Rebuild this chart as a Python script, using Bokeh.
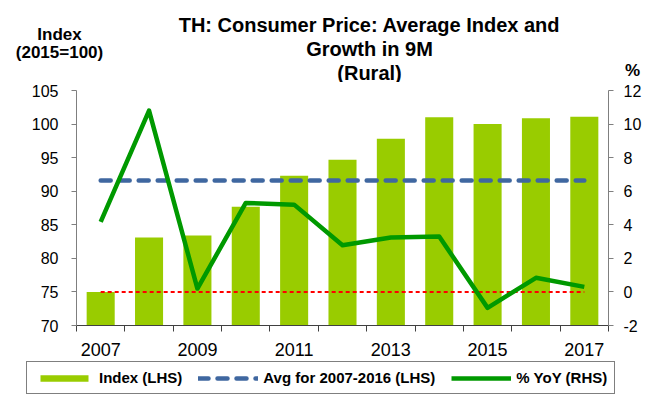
from bokeh.plotting import figure
from bokeh.layouts import column
from bokeh.models import (Range1d, LinearAxis, FixedTicker, Legend, LegendItem,
                          ColumnDataSource)
from bokeh.core.properties import value
from bokeh.embed import file_html
from bokeh.resources import INLINE

# ---- data ----
years = [2007, 2008, 2009, 2010, 2011, 2012, 2013, 2014, 2015, 2016, 2017]
index_vals = [75.0, 83.1, 83.4, 87.7, 92.3, 94.7, 97.8, 101.0, 100.0, 100.85, 101.1]
yoy_vals = [4.17, 10.8, 0.2, 5.3, 5.2, 2.78, 3.24, 3.3, -0.95, 0.84, 0.3]
avg_value = 91.6
zero_value = 0.0
left_ticks = [70, 75, 80, 85, 90, 95, 100, 105]
right_ticks = [-2, 0, 2, 4, 6, 8, 10, 12]
x_label_years = [2007, 2009, 2011, 2013, 2015, 2017]

title_lines = ["TH: Consumer Price: Average Index and", "Growth in 9M", "(Rural)"]
left_unit_lines = ["Index", "(2015=100)"]
right_unit = "%"
legend_labels = ["Index (LHS)", "Avg for 2007-2016 (LHS)", "% YoY (RHS)"]

FONT = "Liberation Sans"
BAR_C = "#99CC00"
LINE_C = "#009900"
AVG_C = "#3F67A0"
ZERO_C = "#FF0000"

W = 644
HEAD_H = 82
MAIN_H = 276
FOOT_H = 37

src = ColumnDataSource(dict(year=years, idx=index_vals, yoy=yoy_vals,
                            avg=[avg_value] * len(years)))

# ---------- header (titles and axis units) ----------
head = figure(width=W, height=HEAD_H, output_backend="svg", toolbar_location=None,
              x_range=Range1d(0, W), y_range=Range1d(HEAD_H, 0),
              x_axis_type=None, y_axis_type=None, min_border=0,
              frame_align=False)
head.outline_line_color = None
head.grid.visible = False
head.text(x=[369] * 3, y=[24, 48, 72], text=title_lines, text_align="center",
          text_baseline="middle", text_font=value(FONT), text_font_size="20px",
          text_font_style="bold", text_color="black")
head.text(x=[59] * 2, y=[34, 52], text=left_unit_lines, text_align="center",
          text_baseline="middle", text_font=value(FONT), text_font_size="17px",
          text_font_style="bold", text_color="black")
head.text(x=[632], y=[70], text=[right_unit], text_align="center",
          text_baseline="middle", text_font=value(FONT), text_font_size="17px",
          text_font_style="bold", text_color="black")

# ---------- main chart ----------
p = figure(width=W, height=MAIN_H, output_backend="svg", toolbar_location=None,
           x_range=Range1d(years[0] - 0.5, years[-1] + 0.5),
           y_range=Range1d(left_ticks[0], left_ticks[-1]),
           min_border_left=76, min_border_right=36, min_border_top=8,
           min_border_bottom=33, frame_align=False)
p.extra_y_ranges = {"pct": Range1d(right_ticks[0], right_ticks[-1])}
p.outline_line_color = None
p.grid.visible = False

p.vbar(x="year", top="idx", bottom=left_ticks[0], width=0.58, source=src,
       fill_color=BAR_C, line_color=None)
p.line([years[0], years[-1]], [zero_value, zero_value], y_range_name="pct",
       line_color=ZERO_C, line_width=2, line_dash="4 3")
p.line([years[0], years[-1]], [avg_value, avg_value], line_color=AVG_C,
       line_width=4.5, line_dash="10 9", line_cap="round")
p.line("year", "yoy", source=src, y_range_name="pct", line_color=LINE_C,
       line_width=4.5, line_join="round")

# x axis
xa = p.xaxis[0]
xa.ticker = FixedTicker(ticks=x_label_years,
                        minor_ticks=[y - 0.5 for y in years] + [years[-1] + 0.5])
xa.major_tick_out = 0
xa.major_tick_in = 0
xa.minor_tick_out = 6
xa.minor_tick_in = 0
xa.minor_tick_line_color = "#404040"
xa.axis_line_color = "#404040"
xa.major_label_text_font = FONT
xa.major_label_text_font_size = "18px"
xa.major_label_text_color = "black"
xa.major_label_standoff = 11

# left axis
ya = p.yaxis[0]
ya.ticker = FixedTicker(ticks=left_ticks)
ya.major_tick_out = 5
ya.major_tick_in = 0
ya.minor_tick_line_color = None
ya.axis_line_color = "#7f7f7f"
ya.major_tick_line_color = "#7f7f7f"
ya.major_label_text_font = FONT
ya.major_label_text_font_size = "16px"
ya.major_label_text_color = "black"
ya.major_label_standoff = 13

# right axis
ra = LinearAxis(y_range_name="pct", ticker=FixedTicker(ticks=right_ticks))
ra.major_label_overrides = {t: str(t) for t in right_ticks}
ra.major_tick_out = 5
ra.major_tick_in = 0
ra.minor_tick_line_color = None
ra.axis_line_color = "#7f7f7f"
ra.major_tick_line_color = "#7f7f7f"
ra.major_label_text_font = FONT
ra.major_label_text_font_size = "16px"
ra.major_label_text_color = "black"
ra.major_label_standoff = 10
p.add_layout(ra, "right")

# ---------- footer (legend) ----------
foot = figure(width=W, height=FOOT_H, output_backend="svg", toolbar_location=None,
              x_range=Range1d(0, W), y_range=Range1d(0, FOOT_H),
              x_axis_type=None, y_axis_type=None, min_border=0,
              frame_align=False)
foot.outline_line_color = None
foot.grid.visible = False
# proxies share the chart's data; the data lie outside this panel's ranges
lb = foot.vbar(x="year", top="idx", width=0.58, source=src,
               fill_color=BAR_C, line_color=None)
la = foot.line("year", "avg", source=src, line_color=AVG_C, line_width=4.5,
               line_dash="10 9", line_cap="round")
ly = foot.line("year", "yoy", source=src, line_color=LINE_C, line_width=4.5)

legend = Legend(items=[LegendItem(label=legend_labels[0], renderers=[lb]),
                       LegendItem(label=legend_labels[1], renderers=[la]),
                       LegendItem(label=legend_labels[2], renderers=[ly])],
                orientation="horizontal", location=(26, 1),
                glyph_width=60, glyph_height=8, label_standoff=5, spacing=16,
                padding=7, margin=0, label_height=16,
                label_text_font=FONT, label_text_font_size="15px",
                label_text_font_style="bold", label_text_color="black",
                border_line_color="black", border_line_width=1.2,
                background_fill_color="white", background_fill_alpha=1)
foot.add_layout(legend, "center")

layout = column(head, p, foot, spacing=0)
open("out.html", "w").write(file_html(layout, INLINE))
